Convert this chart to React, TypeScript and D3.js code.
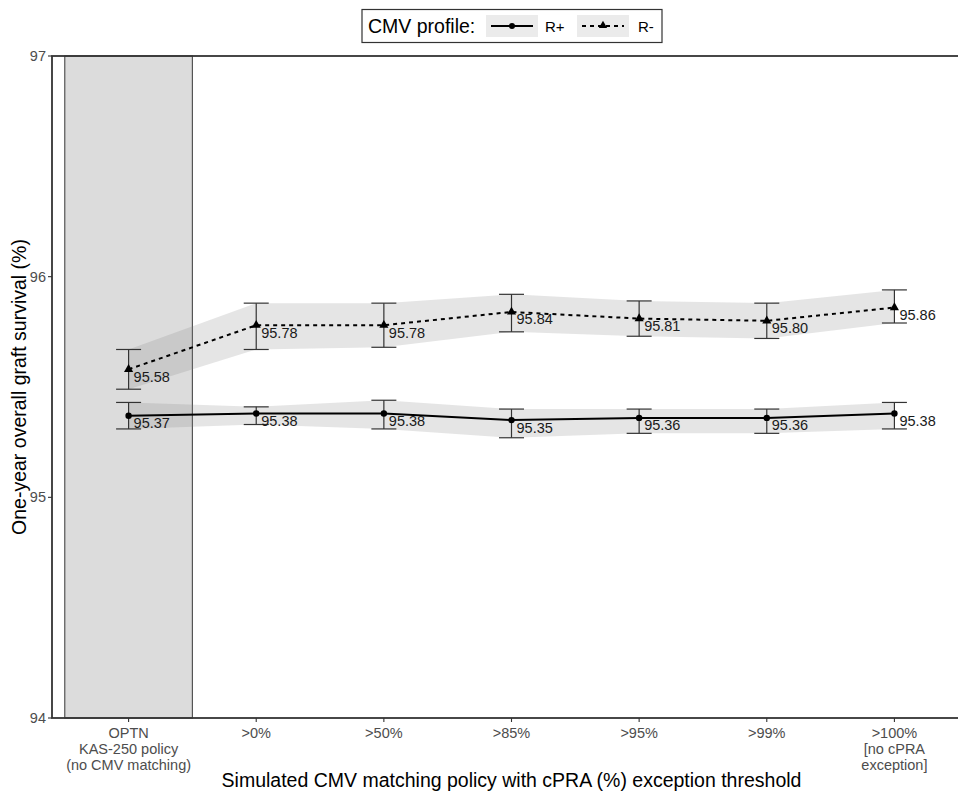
import React from 'react';
import * as d3 from 'd3';

// categories along the x axis (multi-line tick labels)
const categories = ['OPTN', '>0%', '>50%', '>85%', '>95%', '>99%', '>100%'];
const tickLines = [
  ['OPTN', 'KAS-250 policy', '(no CMV matching)'],
  ['>0%'],
  ['>50%'],
  ['>85%'],
  ['>95%'],
  ['>99%'],
  ['>100%', '[no cPRA', 'exception]'],
];

// R+ series
const rPlus = [95.37, 95.38, 95.38, 95.35, 95.36, 95.36, 95.38];
const rPlusLo = [95.31, 95.33, 95.31, 95.27, 95.29, 95.29, 95.31];
const rPlusHi = [95.43, 95.41, 95.44, 95.40, 95.40, 95.40, 95.43];

// R- series
const rMinus = [95.58, 95.78, 95.78, 95.84, 95.81, 95.80, 95.86];
const rMinusLo = [95.49, 95.67, 95.68, 95.75, 95.73, 95.72, 95.79];
const rMinusHi = [95.67, 95.88, 95.88, 95.92, 95.89, 95.88, 95.94];

const yTicks = [94, 95, 96, 97];

const W = 958;
const H = 792;
const margin = { top: 56, right: -13, bottom: 74, left: 52 };
const FONT = '"Liberation Sans", Arial, sans-serif';

type Row = { cat: string; v: number; lo: number; hi: number };

const App = () => {
  const x0 = margin.left;
  const x1 = W - margin.right;
  const y0 = H - margin.bottom;
  const y1 = margin.top;

  const x = d3.scalePoint<string>().domain(categories).range([x0, x1]).padding(0.6);
  const step = x.step();
  const y = d3.scaleLinear().domain([94, 97]).range([y0, y1]);

  const plus: Row[] = categories.map((c, i) => ({ cat: c, v: rPlus[i], lo: rPlusLo[i], hi: rPlusHi[i] }));
  const minus: Row[] = categories.map((c, i) => ({ cat: c, v: rMinus[i], lo: rMinusLo[i], hi: rMinusHi[i] }));

  const line = d3.line<Row>().x(d => x(d.cat)!).y(d => y(d.v));
  const band = d3.area<Row>().x(d => x(d.cat)!).y0(d => y(d.lo)).y1(d => y(d.hi));

  const tri = d3.symbol().type(d3.symbolTriangle).size(36)()!;
  const triSmall = d3.symbol().type(d3.symbolTriangle).size(30)()!;

  const series = [
    { data: plus, dash: undefined as string | undefined, shape: 'circle' },
    { data: minus, dash: '4,4', shape: 'triangle' },
  ];

  const cap = 12.5;

  return (
    <div style={{ position: 'absolute', left: 0, top: 0 }}>
      <svg width={W} height={H} style={{ display: 'block', fontFamily: FONT }}>
        <rect width={W} height={H} fill="#fff" />
        {/* reference policy shading */}
        <rect
          x={x('OPTN')! - step / 2}
          y={y1}
          width={step}
          height={y0 - y1}
          fill="#dcdcdc"
          stroke="#555"
          strokeWidth={1.2}
        />
        {/* ribbons */}
        {series.map((s, i) => (
          <path key={'b' + i} d={band(s.data)!} fill="#7f7f7f" fillOpacity={0.2} />
        ))}
        {/* error bars */}
        {series.map((s, i) =>
          s.data.map((d, j) => {
            const cx = x(d.cat)!;
            return (
              <g key={`e${i}-${j}`} stroke="#333" strokeWidth={1.2}>
                <line x1={cx} x2={cx} y1={y(d.lo)} y2={y(d.hi)} />
                <line x1={cx - cap} x2={cx + cap} y1={y(d.lo)} y2={y(d.lo)} />
                <line x1={cx - cap} x2={cx + cap} y1={y(d.hi)} y2={y(d.hi)} />
              </g>
            );
          })
        )}
        {/* lines */}
        {series.map((s, i) => (
          <path key={'l' + i} d={line(s.data)!} fill="none" stroke="#000" strokeWidth={2} strokeDasharray={s.dash} />
        ))}
        {/* points */}
        {series.map((s, i) =>
          s.data.map((d, j) =>
            s.shape === 'circle' ? (
              <circle key={`p${i}-${j}`} cx={x(d.cat)!} cy={y(d.v)} r={3.2} fill="#000" />
            ) : (
              <path key={`p${i}-${j}`} d={tri} transform={`translate(${x(d.cat)!},${y(d.v)})`} fill="#000" />
            )
          )
        )}
        {/* value labels */}
        {series.map((s, i) =>
          s.data.map((d, j) => (
            <text key={`t${i}-${j}`} x={x(d.cat)! + 5} y={y(d.v) + 12.5} fontSize={14.5} fill="#1a1a1a">
              {d.v.toFixed(2)}
            </text>
          ))
        )}
        {/* panel border */}
        <rect x={x0} y={y1} width={x1 - x0} height={y0 - y1} fill="none" stroke="#333" strokeWidth={1.8} />
        {/* y axis */}
        {yTicks.map(t => (
          <g key={'y' + t}>
            <line x1={x0 - 4} x2={x0} y1={y(t)} y2={y(t)} stroke="#333" strokeWidth={1.1} />
            <text x={x0 - 6} y={y(t)} dy="0.35em" textAnchor="end" fontSize={14.5} fill="#4d4d4d">
              {t}
            </text>
          </g>
        ))}
        {/* x axis */}
        {categories.map((c, i) => (
          <g key={'x' + c}>
            <line x1={x(c)!} x2={x(c)!} y1={y0} y2={y0 + 4} stroke="#333" strokeWidth={1.1} />
            {tickLines[i].map((ln, k) => (
              <text key={k} x={x(c)!} y={y0 + 20 + k * 16} textAnchor="middle" fontSize={14.5} fill="#4d4d4d">
                {ln}
              </text>
            ))}
          </g>
        ))}
        {/* axis titles */}
        <text x={(x0 + x1) / 2} y={787} textAnchor="middle" fontSize={19.5} fill="#000">
          Simulated CMV matching policy with cPRA (%) exception threshold
        </text>
        <text
          transform={`translate(26,${(y0 + y1) / 2}) rotate(-90)`}
          textAnchor="middle"
          fontSize={19.5}
          fill="#000"
        >
          One-year overall graft survival (%)
        </text>
        {/* legend */}
        <g>
          <rect x={362} y={9.5} width={300} height={33} fill="#fff" stroke="#333" strokeWidth={1.2} />
          <text x={368} y={33} fontSize={19.5} fill="#000">CMV profile:</text>
          <rect x={486} y={15} width={52} height={22} fill="#ebebeb" />
          <line x1={491} x2={533} y1={26} y2={26} stroke="#000" strokeWidth={2} />
          <circle cx={512} cy={26} r={3} fill="#000" />
          <text x={545} y={31.5} fontSize={15} fill="#000">R+</text>
          <rect x={577} y={15} width={52} height={22} fill="#ebebeb" />
          <line x1={582} x2={624} y1={26} y2={26} stroke="#000" strokeWidth={2} strokeDasharray="4,4" />
          <path d={triSmall} transform="translate(603,25.5)" fill="#000" />
          <text x={638} y={31.5} fontSize={15} fill="#000">R-</text>
        </g>
      </svg>
    </div>
  );
};

export default App;
